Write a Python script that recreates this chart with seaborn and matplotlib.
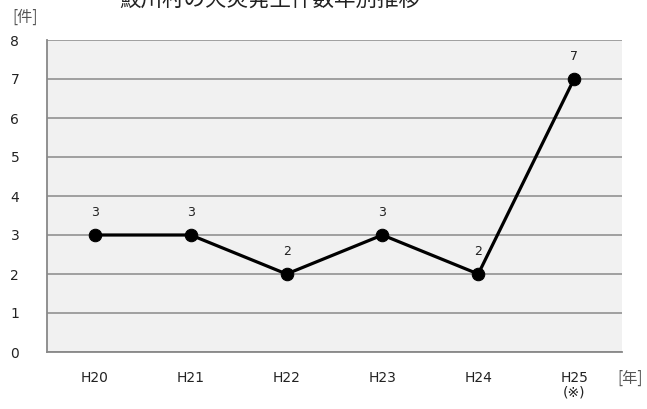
import matplotlib.pyplot as plt
import pandas as pd
import numpy as np
import seaborn as sns

# データ
nendo = ['H20', 'H21', 'H22', 'H23', 'H24', 'H25\n(※)']
kensu = [3, 3, 2, 3, 2, 7]

sns.set_style("white")
plt.rcParams['font.family'] = ['Noto Sans CJK JP', 'DejaVu Sans']
lat = ['DejaVu Sans', 'Noto Sans CJK JP']

df = pd.DataFrame({'x': np.arange(len(nendo)), 'kensu': kensu})

fig = plt.figure(figsize=(6.47, 4.09), dpi=100)
ax = fig.add_axes([47 / 647, 1 - 352 / 409, 575 / 647, 312 / 409])
ax.set_facecolor('#f1f1f1')

sns.lineplot(data=df, x='x', y='kensu', ax=ax, color='black', linewidth=2.3,
             marker='o', markersize=9, markeredgecolor='black')

for i, v in enumerate(kensu):
    ax.text(i, v + 0.42, str(v), ha='center', va='bottom', fontsize=9,
            color='#222222', family=lat)

ax.set_xlim(-0.5, len(nendo) - 0.5)
ax.set_ylim(0, 8)
ax.set_yticks(range(0, 9))
ax.yaxis.grid(True, color='#999999', linewidth=1.3)
ax.set_axisbelow(True)

ax.set_xticks(range(len(nendo)))
ax.set_xticklabels(nendo, linespacing=1.05)
ax.set_xticks(np.arange(-0.5, len(nendo)), minor=True)
ax.tick_params(axis='x', which='major', length=0, pad=14)
ax.tick_params(axis='x', which='minor', length=4, color='#888888', width=1.2, direction='out')
ax.tick_params(axis='y', length=6, color='#888888', width=1.2, pad=14)
for lb in ax.get_xticklabels() + ax.get_yticklabels():
    lb.set_family(lat)
    lb.set_fontsize(10)
    lb.set_color('#222222')

for s in ['top', 'right']:
    ax.spines[s].set_visible(False)
for s in ['left', 'bottom']:
    ax.spines[s].set_color('#888888')
    ax.spines[s].set_linewidth(1.3)

ax.set_xlabel('')
ax.set_ylabel('')

fig.text(25 / 647, 1 - 17 / 409, '[件]', ha='center', va='center', fontsize=11, color='#555555')
fig.text(630 / 647, 1 - 378 / 409, '[年]', ha='center', va='center', fontsize=11, color='#555555')
fig.text(270 / 647, 1.0, '鮫川村の火災発生件数年別推移', ha='center', va='center',
         fontsize=15.5, color='#222222')

fig.savefig('out.png', dpi=100)
